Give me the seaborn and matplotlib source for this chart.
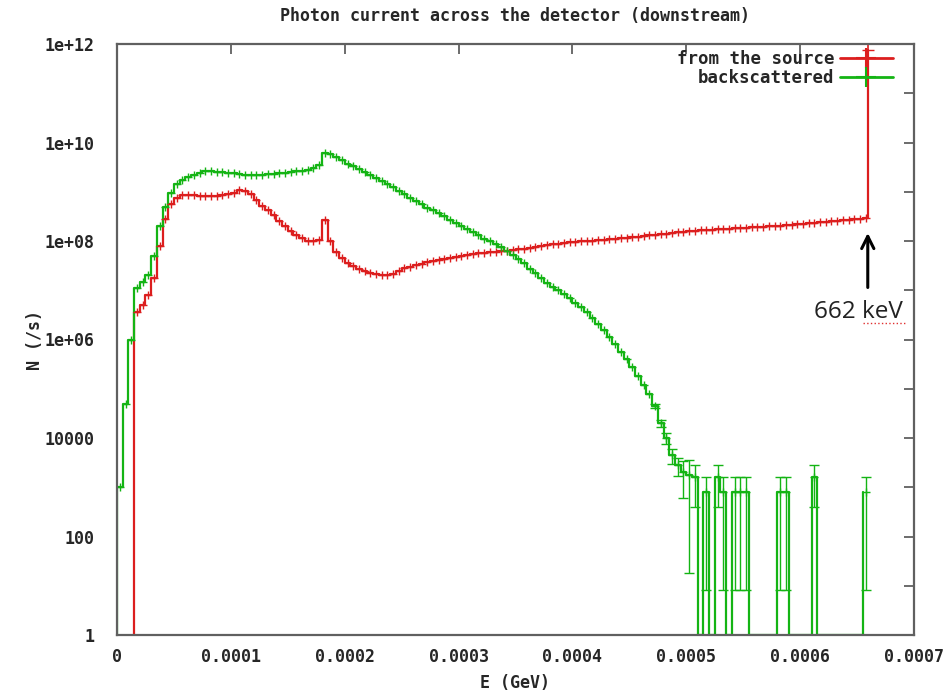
import numpy as np
import pandas as pd
import matplotlib
matplotlib.use("Agg")
import matplotlib.pyplot as plt
import seaborn as sns
from matplotlib.lines import Line2D
from matplotlib.ticker import FixedLocator

# ---------------- data ----------------
bin_width = 5e-6          # GeV per histogram bin
x_ticks = [0, 0.0001, 0.0002, 0.0003, 0.0004, 0.0005, 0.0006, 0.0007]
x_tick_labels = ["0", "0.0001", "0.0002", "0.0003", "0.0004", "0.0005", "0.0006", "0.0007"]
y_ticks = [1, 1e2, 1e4, 1e6, 1e8, 1e10, 1e12]
y_tick_labels = ["1", "100", "10000", "1e+06", "1e+08", "1e+10", "1e+12"]

# "from the source": log10(N) per bin, starting at bin 3
red_first_bin = 3
red_log10N = [
    6.56, 6.70, 6.90, 7.25, 7.90, 8.45, 8.75, 8.88, 8.93, 8.93,
    8.93, 8.92, 8.92, 8.92, 8.92, 8.94, 8.96, 8.98, 9.03, 9.02,
    8.95, 8.84, 8.72, 8.62, 8.52, 8.41, 8.30, 8.20, 8.12, 8.06,
    8.01, 7.99, 8.02, 8.42, 8.00, 7.77, 7.65, 7.56, 7.49, 7.43,
    7.39, 7.35, 7.32, 7.31, 7.31, 7.32, 7.40, 7.45, 7.48, 7.51,
    7.54, 7.57, 7.60, 7.62, 7.64, 7.66, 7.68, 7.70, 7.72, 7.73,
    7.75, 7.76, 7.77, 7.78, 7.79, 7.80, 7.81, 7.83, 7.84, 7.86,
    7.88, 7.90, 7.92, 7.93, 7.94, 7.95, 7.97, 7.98, 7.99, 8.00,
    8.01, 8.02, 8.03, 8.04, 8.05, 8.06, 8.07, 8.08, 8.09, 8.11,
    8.12, 8.13, 8.14, 8.15, 8.17, 8.18, 8.19, 8.20, 8.21, 8.22,
    8.22, 8.23, 8.24, 8.25, 8.25, 8.26, 8.27, 8.27, 8.28, 8.28,
    8.29, 8.30, 8.30, 8.31, 8.32, 8.33, 8.34, 8.35, 8.36, 8.37,
    8.38, 8.39, 8.40, 8.41, 8.42, 8.43, 8.44, 8.45, 8.46,
    11.88,   # 662 keV line
]

# "backscattered": log10(N) per bin, starting at bin 0 (0 = empty bin)
green_log10N = [
    3.00, 4.70, 6.00, 7.05, 7.17, 7.30, 7.70, 8.30, 8.70, 8.98,
    9.15, 9.24, 9.30, 9.34, 9.38, 9.42, 9.42, 9.41, 9.40, 9.39,
    9.38, 9.37, 9.35, 9.34, 9.34, 9.35, 9.36, 9.37, 9.38, 9.39,
    9.40, 9.42, 9.43, 9.45, 9.48, 9.55, 9.79, 9.76, 9.70, 9.64,
    9.57, 9.52, 9.46, 9.40, 9.34, 9.28, 9.22, 9.16, 9.09, 9.02,
    8.95, 8.88, 8.81, 8.75, 8.68, 8.62, 8.56, 8.50, 8.43, 8.37,
    8.31, 8.25, 8.19, 8.12, 8.05, 7.99, 7.93, 7.87, 7.80, 7.72,
    7.64, 7.56, 7.44, 7.35, 7.25, 7.15, 7.07, 7.00, 6.93, 6.84,
    6.74, 6.66, 6.55, 6.43, 6.32, 6.19, 6.05, 5.90, 5.75, 5.60,
    5.44, 5.26, 5.08, 4.90, 4.65, 4.30, 4.00, 3.65, 3.45, 3.30,
    3.25, 3.21, 0, 2.91, 0, 3.21, 2.91, 0, 2.91, 2.91,
    2.91, 0, 0, 0, 0, 0, 2.91, 2.91, 0, 0,
    0, 0, 3.21, 0, 0, 0, 0, 0, 0, 0,
    0, 2.91,
]
# relative errors of the green tail, bins 94..131
green_tail_first_bin = 94
green_tail_relerr = [
    0.10, 0.15, 0.25, 0.35, 0.40, 0.70, 0.99, 0.75, 0, 0.99,
    0, 0.75, 0.99, 0, 0.99, 0.99, 0.99, 0, 0, 0,
    0, 0, 0.99, 0.99, 0, 0, 0, 0, 0.75, 0,
    0, 0, 0, 0, 0, 0, 0, 0.99,
]

RED = "#dc1e1e"
GREEN = "#14b414"
FRAME = "#606060"

# ---------------- build tables ----------------
def hist_table(first_bin, logs, label):
    bins = np.arange(first_bin, first_bin + len(logs))
    lg = np.asarray(logs, dtype=float)
    return pd.DataFrame({"bin": bins, "E_lo": bins * bin_width,
                         "E_c": (bins + 0.5) * bin_width, "N": 10.0 ** lg,
                         "is_empty": lg == 0, "series": label})

red = hist_table(red_first_bin, red_log10N, "from the source")
green = hist_table(0, green_log10N, "backscattered")

def step_frame(df):
    xs = np.concatenate([[df.E_lo.iloc[0]], df.E_lo.values])
    ys = np.concatenate([[1.0], df.N.values])
    return pd.DataFrame({"E": xs, "N": ys})

sns.set_style("white")
plt.rcParams["font.family"] = ["DejaVu Sans Mono", "DejaVu Sans"]

fig = plt.figure(figsize=(9.51, 6.93), dpi=100)
ax = fig.add_axes([117 / 951, 1 - 635 / 693, (914 - 117) / 951, (635 - 44) / 693])

for df, col in ((red, RED), (green, GREEN)):
    sf = step_frame(df)
    sns.lineplot(data=sf, x="E", y="N", ax=ax, color=col, lw=1.6,
                 drawstyle="steps-post", estimator=None, sort=False, legend=False)

# point markers at bin centres (non-empty bins)
rp = red[~red.is_empty].iloc[:-1]
ax.plot(rp.E_c, rp.N, ls="none", marker="+", ms=6, mew=1.0, color=RED)
gp = green[~green.is_empty]
ax.plot(gp.E_c, gp.N, ls="none", marker="+", ms=6, mew=1.0, color=GREEN)

# 662 keV bin error bar cap
pk = red.iloc[-1]
ax.errorbar([pk.E_lo], [pk.N], yerr=[[0], [pk.N * 0.35]], fmt="none",
            ecolor=RED, elinewidth=1.2, capsize=4)

# green tail error bars
tail = green[green.bin >= green_tail_first_bin].copy()
tail["re"] = green_tail_relerr[:len(tail)]
tail = tail[(~tail.is_empty) & (tail.re > 0)]
ax.errorbar(tail.E_c, tail.N, yerr=[tail.N * tail.re, tail.N * tail.re],
            fmt="none", ecolor=GREEN, elinewidth=1.0, capsize=3.5)

# ---------------- axes ----------------
ax.set_yscale("log")
ax.set_xlim(0, 0.0007)
ax.set_ylim(1, 1e12)
ax.xaxis.set_major_locator(FixedLocator(x_ticks))
ax.set_xticklabels(x_tick_labels)
ax.yaxis.set_major_locator(FixedLocator(y_ticks))
ax.set_yticklabels(y_tick_labels)
ax.yaxis.set_minor_locator(FixedLocator([10.0 ** k for k in range(1, 12, 2)]))
ax.set_xlabel("")
ax.set_ylabel("")
for sp in ax.spines.values():
    sp.set_visible(True)
    sp.set_color(FRAME)
    sp.set_linewidth(1.6)
ax.tick_params(which="both", direction="in", top=True, right=True,
               color=FRAME, width=1.3, length=7)
ax.tick_params(which="minor", labelleft=False, length=7)
ax.tick_params(axis="y", pad=16, labelsize=12)
ax.tick_params(axis="x", pad=9, labelsize=12)
for lab in ax.get_xticklabels() + ax.get_yticklabels():
    lab.set_fontweight("bold")

# legend
handles = [Line2D([], [], color=RED, lw=2, marker="+", ms=14, mew=1.5),
           Line2D([], [], color=GREEN, lw=2, marker="+", ms=14, mew=1.5)]
ax.legend(handles, ["from the source", "backscattered"], loc="upper right",
          bbox_to_anchor=(0.982, 1.002), frameon=False, markerfirst=False,
          handlelength=3.05, handletextpad=0.3, labelspacing=0.05,
          borderaxespad=0, prop={"family": "DejaVu Sans Mono", "weight": "bold", "size": 12.5})

# 662 keV annotation
ax.annotate("", xy=(0.0006594, 10 ** 8.22), xytext=(0.0006594, 10 ** 7.0),
            arrowprops=dict(arrowstyle="->", color="black", lw=2.2, mutation_scale=22))
ax.text(0.000651, 10 ** 6.55, "662 keV", ha="center", va="center",
        fontsize=17.5, family="Open Sans", color="#222222")
ax.plot([0.0006555, 0.0006940], [10 ** 6.33, 10 ** 6.33], color="#e03030", lw=1.0, ls=":")

# titles
fig.text(515 / 951, 1 - 16 / 693, "Photon current across the detector (downstream)",
         ha="center", va="center", fontsize=12, fontweight="bold")
fig.text(515 / 951, 1 - 683 / 693, "E (GeV)", ha="center", va="center",
         fontsize=12, fontweight="bold")
fig.text(35 / 951, 1 - 340 / 693, "N (/s)", ha="center", va="center",
         rotation=90, fontsize=12, fontweight="bold")

fig.savefig("out.png", dpi=100)
